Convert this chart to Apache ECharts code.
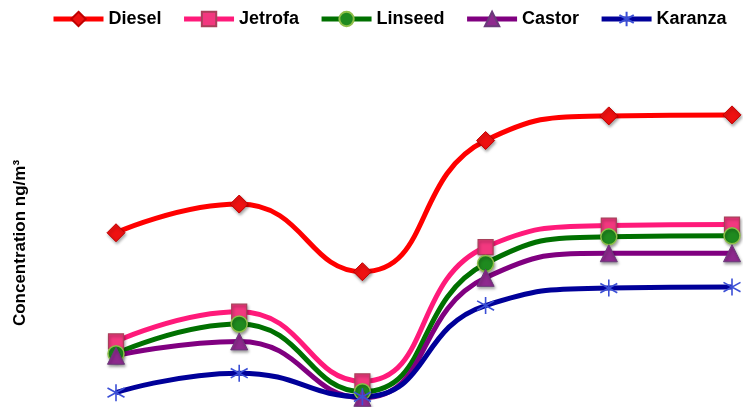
<!DOCTYPE html>
<html>
<head>
<meta charset="utf-8">
<script src="https://cdn.jsdelivr.net/npm/echarts@6/dist/echarts.min.js"></script>
<style>
  html, body { margin: 0; padding: 0; background: #fff; }
  #chart { width: 743px; height: 407px; }
</style>
</head>
<body>
<div id="chart"></div>
<script>
// Sample points along the x axis (labels are not shown on the chart)
const categories = ['1', '2', '3', '4', '5', '6'];

// Concentration (ng/m³) per fuel
const diesel  = [17.0, 19.8, 13.2, 26.0, 28.4, 28.5];
const jetrofa = [6.4, 9.3, 2.5, 15.6, 17.7, 17.8];
const linseed = [5.2, 8.1, 1.5, 14.0, 16.6, 16.7];
const castor  = [5.0, 6.4, 0.9, 12.6, 15.0, 15.0];
const karanza = [1.4, 3.3, 1.0, 9.9, 11.6, 11.7];

const yAxisTitle = 'Concentration ng/m\u00B3';

const FONT = '"Liberation Sans", Arial, sans-serif';
const asterisk = 'path://M10,0 L10,20 M1.5,4.5 L18.5,15.5 M18.5,4.5 L1.5,15.5';

const markerShadow = { shadowColor: 'rgba(0,0,0,0.35)', shadowBlur: 3, shadowOffsetX: 1, shadowOffsetY: 2 };

function makeSeries(name, data, lineColor, symbol, size, item) {
  return {
    name: name,
    type: 'line',
    data: data,
    smooth: 0.5,
    symbol: symbol,
    symbolSize: size,
    z: 2,
    lineStyle: { color: lineColor, width: 5 },
    itemStyle: Object.assign({}, markerShadow, item),
    emphasis: { disabled: true }
  };
}

const chart = echarts.init(document.getElementById('chart'), null, { renderer: 'canvas' });

chart.setOption({
  animation: false,
  backgroundColor: '#ffffff',
  textStyle: { fontFamily: FONT },
  legend: {
    top: 5,
    left: 46,
    itemWidth: 50,
    itemHeight: 18,
    itemGap: 20,
    lineStyle: { width: 5 },
    textStyle: { fontFamily: FONT, fontWeight: 'bold', fontSize: 18, color: '#000' },
    data: ['Diesel', 'Jetrofa', 'Linseed', 'Castor', 'Karanza']
  },
  grid: { left: 116, right: 11, top: 79, bottom: 0, containLabel: false },
  xAxis: {
    type: 'category',
    data: categories,
    boundaryGap: false,
    axisLine: { show: false },
    axisTick: { show: false },
    axisLabel: { show: false },
    splitLine: { show: false }
  },
  yAxis: {
    type: 'value',
    min: 0,
    max: 32,
    name: yAxisTitle,
    nameLocation: 'middle',
    nameRotate: 90,
    nameGap: 87,
    nameTextStyle: { fontFamily: FONT, fontWeight: 'bold', fontSize: 17, color: '#000' },
    axisLine: { show: false },
    axisTick: { show: false },
    axisLabel: { show: false },
    splitLine: { show: false }
  },
  series: [
    makeSeries('Diesel', diesel, '#ff0000', 'diamond', 18,
      { color: '#ee1111', borderColor: '#c00000', borderWidth: 1 }),
    makeSeries('Jetrofa', jetrofa, '#ff1a7a', 'rect', 15,
      { color: '#f2387f', borderColor: '#a8405a', borderWidth: 1.2 }),
    makeSeries('Linseed', linseed, '#007000', 'circle', 16,
      { color: '#1f8a1f', borderColor: '#8fbf4a', borderWidth: 1.5 }),
    makeSeries('Castor', castor, '#800080', 'triangle', 17,
      { color: '#8e2a8e', borderColor: '#6a3a7a', borderWidth: 1 }),
    makeSeries('Karanza', karanza, '#000099', asterisk, 17,
      { color: 'rgba(0,0,0,0)', borderColor: '#3b4fd6', borderWidth: 1.6, shadowBlur: 0, shadowOffsetX: 0, shadowOffsetY: 0 })
  ]
});
</script>
</body>
</html>
